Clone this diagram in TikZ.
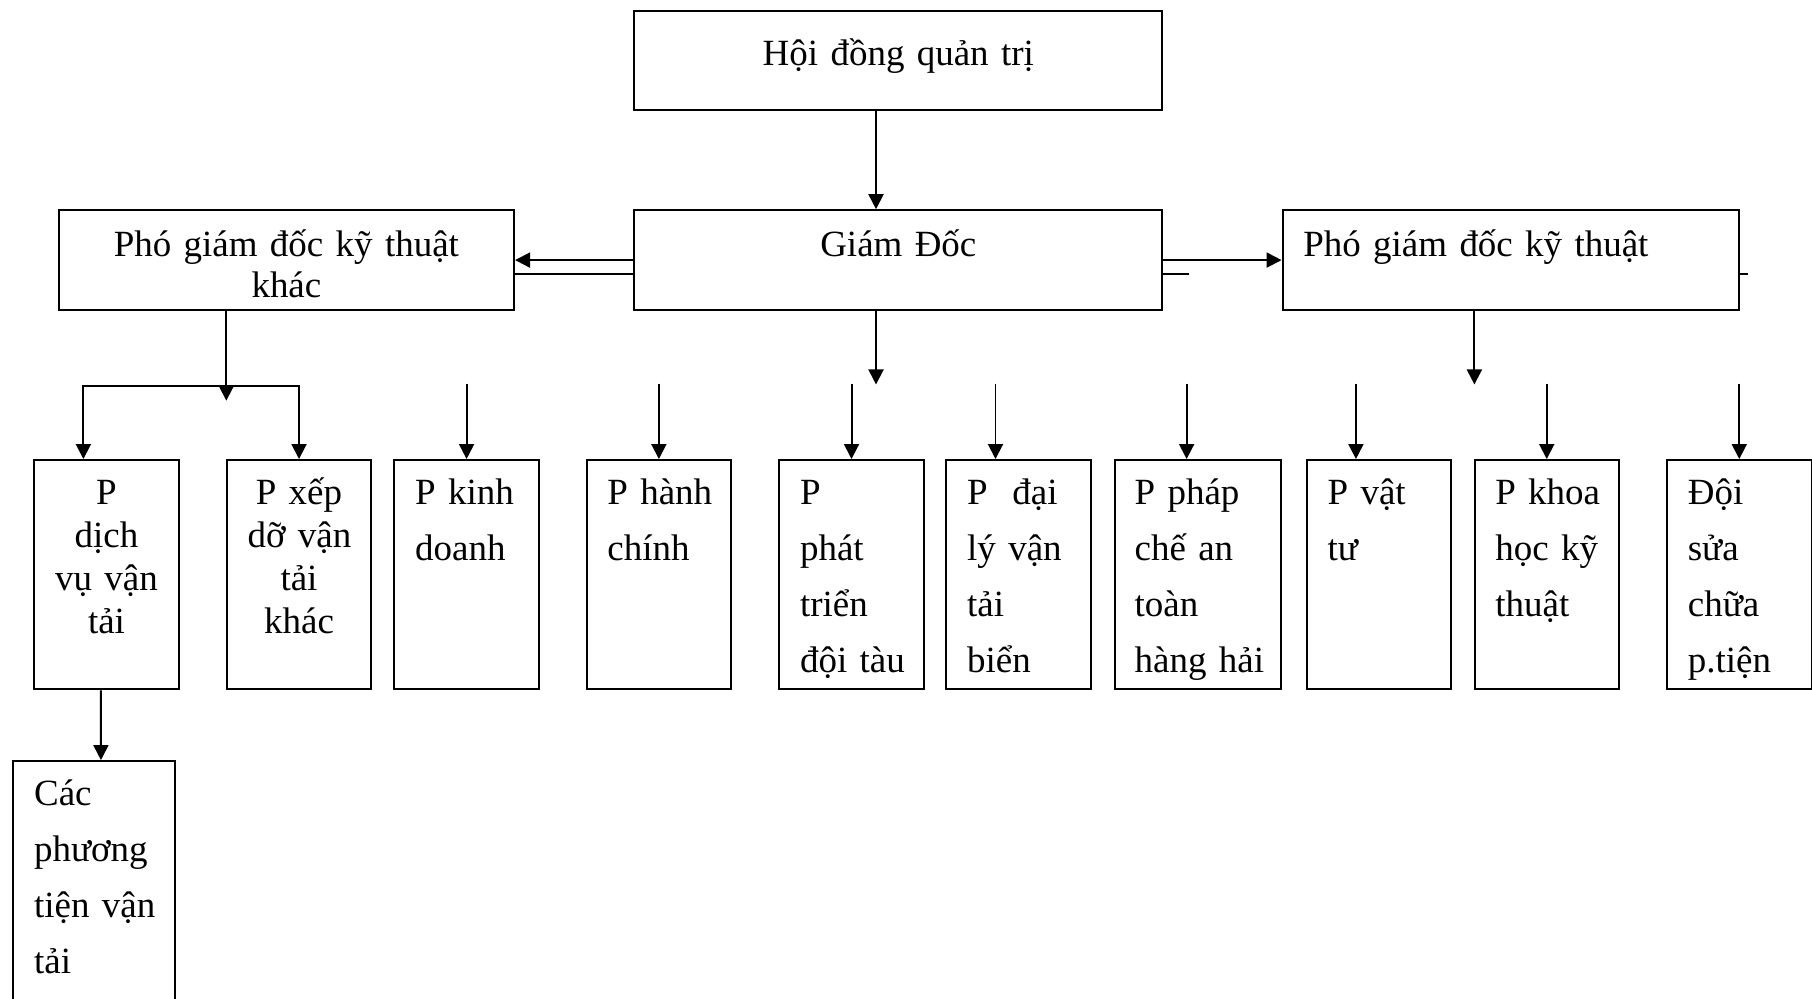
\documentclass[tikz,border=0pt]{standalone}
\usepackage{fontspec}
\setmainfont{Liberation Serif}
\usetikzlibrary{arrows.meta}

\tikzset{
  unit/.style={draw, inner ysep=0pt, anchor=north west},
  bac/.style={unit, inner xsep=0pt, align=center, text height=19.85pt, text depth=23.35pt,
    font=\fontsize{16}{18}\selectfont},
  phong/.style={unit, inner xsep=9pt, text width=44.5pt, align=left,
    text height=19.2pt, text depth=80pt, font=\fontsize{16}{24.25}\selectfont},
  phongc/.style={phong, align=center, font=\fontsize{16}{18.65}\selectfont},
  arr/.style={-{Triangle[length=6.5pt,width=6.5pt]}}
}

\begin{document}
\begin{tikzpicture}[x=0.5pt, y=-0.5pt, line width=0.85pt]
\useasboundingbox (0,0) rectangle (1568,864);

\node[bac, text width=228.5pt, text height=23.4pt, text depth=19.5pt] (hdqt) at (548,8.7) {Hội đồng quản trị};
\node[bac, text width=228.5pt] (gd) at (548,181) {Giám Đốc};
\node[bac, text width=197pt] (pgdl) at (50,181) {Phó giám đốc kỹ thuật\\khác};
\node[bac, inner xsep=9pt, text width=179.5pt, align=left] (pgdr) at (1109,181) {Phó giám đốc kỹ thuật};

\node[phongc] (dv) at (28.8,397.2) {P\\dịch\\vụ~vận\\tải};
\node[phongc] (xd) at (195.4,397.2) {P~xếp\\dỡ~vận\\tải\\khác};
\node[phong] (kd) at (340.4,397.2) {P~kinh\\doanh};
\node[phong] (hc) at (506.8,397.2) {P~hành\\chính};
\node[phong] (ptdt) at (673.5,397.2) {P\\phát\\triển\\đội~tàu};
\node[phong] (dl) at (818.1,397.2) {P~~đại\\lý~vận\\tải\\biển};
\node[phong, inner xsep=8.5pt, text width=55pt] (pc) at (964,397.2) {P~pháp\\chế~an\\toàn\\hàng~hải};
\node[phong] (vt) at (1130,397.2) {P~vật\\tư};
\node[phong] (kh) at (1275.1,397.2) {P~khoa\\học~kỹ\\thuật};
\node[phong] (sc) at (1441.7,397.2) {Đội\\sửa\\chữa\\p.tiện};
\node[phong, text width=52pt, text depth=120pt] (cpt) at (10.7,657.7) {Các\\phương\\tiện~vận\\tải};

\draw[arr] ([xshift=-9.65pt]hdqt.south) -- ([xshift=-9.65pt]gd.north);
\draw[arr] (gd.west) -- (pgdl.east);
\draw ([yshift=-6.2pt]gd.west) -- ([yshift=-6.2pt]pgdl.east);
\draw[arr] (gd.east) -- (pgdr.west);
\coordinate (gdstub) at ([xshift=11pt,yshift=-6.2pt]gd.east);
\draw ([yshift=-6.2pt]gd.east) -- (gdstub);
\coordinate (pgdrstub) at ([xshift=3.5pt,yshift=-6.2pt]pgdr.east);
\draw ([yshift=-6.2pt]pgdr.east) -- (pgdrstub);

\coordinate (gdend) at ([xshift=-9.65pt,yshift=-31.8pt]gd.south);
\draw[arr] ([xshift=-9.65pt]gd.south) -- (gdend);
\coordinate (pgdrend) at ([xshift=-15.75pt,yshift=-31.8pt]pgdr.south);
\draw[arr] ([xshift=-15.75pt]pgdr.south) -- (pgdrend);

\coordinate (tach) at ([xshift=-26pt,yshift=-32.3pt]pgdl.south);
\coordinate (tachend) at ([xshift=-26pt,yshift=-38.8pt]pgdl.south);
\draw[arr] ([xshift=-26pt]pgdl.south) -- (tachend);
\draw[arr] (tach) -| ([xshift=-10pt]dv.north);
\draw[arr] (tach) -| (xd.north);

\foreach \p/\dx in {kd/0, hc/0, ptdt/0, dl/-10, pc/-5, vt/-10, kh/0, sc/0}
  \draw[arr] ([xshift=\dx pt, yshift=32.6pt]\p.north) -- ([xshift=\dx pt]\p.north);

\draw[arr] ([xshift=-2.4pt]dv.south) -- ([xshift=2.9pt]cpt.north);
\end{tikzpicture}
\end{document}
